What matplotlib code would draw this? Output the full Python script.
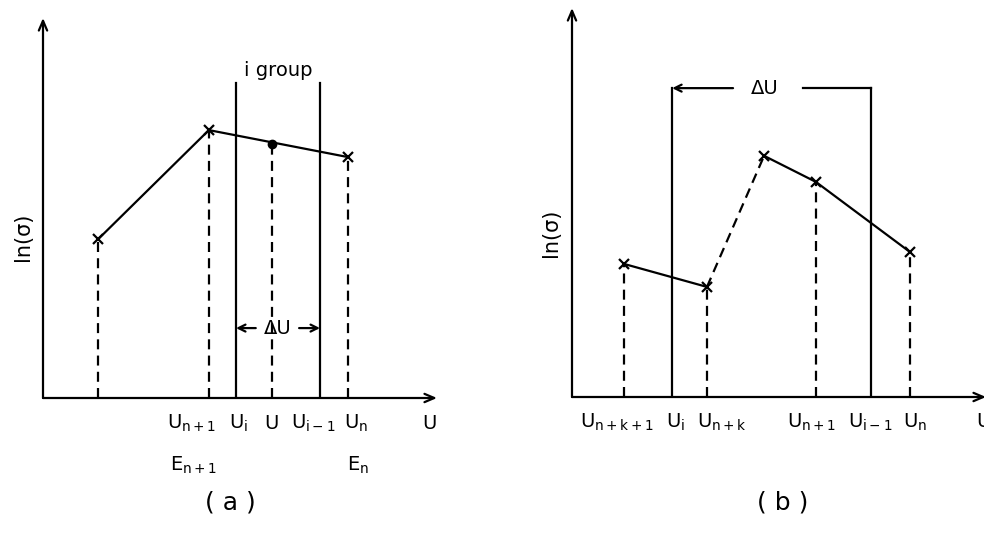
import matplotlib
matplotlib.use("Agg")
import matplotlib.pyplot as plt

plt.rcParams["font.family"] = ["DejaVu Sans"]
plt.rcParams["mathtext.default"] = "regular"

# panel (a): points on the ln(sigma) curve
a_x = [14.0, 42.1, 77.4]
a_y = [41.8, 70.5, 63.4]
a_dot_x = 58.1
a_dot_y = 66.8
a_ui = 49.0
a_ui1 = 70.3
a_group_top = 83.0
a_du_y = 18.4
a_ticks = [(37.8, r"$U_{n+1}$"), (49.7, r"$U_i$"), (58.1, "U"),
           (68.5, r"$U_{i-1}$"), (79.4, r"$U_n$"), (98.2, "U")]
a_ticks2 = [(38.3, r"$E_{n+1}$"), (80.0, r"$E_n$")]

# panel (b)
b_x = [12.6, 32.6, 46.4, 58.9, 81.6]
b_y = [34.2, 28.3, 62.0, 55.3, 37.3]
b_ui = 24.2
b_ui1 = 72.2
b_top = 79.4
b_ticks = [(10.9, r"$U_{n+k+1}$"), (24.9, r"$U_i$"), (36.2, r"$U_{n+k}$"),
           (58.0, r"$U_{n+1}$"), (72.0, r"$U_{i-1}$"), (82.9, r"$U_n$"),
           (99.5, "U")]

W, H = 984, 546
fig = plt.figure(figsize=(W / 100, H / 100), dpi=100)

lw = 1.6
fs = 14
ax_a = fig.add_axes([43 / W, (H - 398) / H, 394 / W, 380 / H])
ax_b = fig.add_axes([572 / W, (H - 397) / H, 414 / W, 389 / H])

for ax in (ax_a, ax_b):
    ax.set_xlim(0, 100)
    ax.set_ylim(0, 100)
    ax.axis("off")
    arr = dict(arrowstyle="->,head_length=0.7,head_width=0.3", lw=lw, color="black",
               shrinkA=0, shrinkB=0)
    ax.annotate("", xy=(100, 0), xytext=(0, 0), arrowprops=arr, annotation_clip=False)
    ax.annotate("", xy=(0, 100), xytext=(0, 0), arrowprops=arr, annotation_clip=False)
    ax.text(-5, 42.3, "ln(σ)", rotation=90, fontsize=15, ha="center", va="center")

dash = (0, (4.5, 2.8))

# ---- (a)
ax_a.plot(a_x, a_y, color="black", lw=lw, marker="x", ms=7, mew=1.6, clip_on=False)
ax_a.plot([a_dot_x], [a_dot_y], "o", color="black", ms=6)
for x, y in zip(a_x + [a_dot_x], a_y + [a_dot_y]):
    ax_a.plot([x, x], [0, y], color="black", lw=lw, ls=dash)
for x in (a_ui, a_ui1):
    ax_a.plot([x, x], [0, a_group_top], color="black", lw=lw)
ax_a.text((a_ui + a_ui1) / 2, 86.3, "i group", fontsize=fs, ha="center", va="center")
small = dict(arrowstyle="->,head_length=0.5,head_width=0.25", lw=lw, color="black",
             shrinkA=0, shrinkB=0)
ax_a.annotate("", xy=(a_ui, a_du_y), xytext=(54.0, a_du_y), arrowprops=small)
ax_a.annotate("", xy=(a_ui1, a_du_y), xytext=(65.0, a_du_y), arrowprops=small)
ax_a.text(59.6, a_du_y, "ΔU", fontsize=fs, ha="center", va="center")
for x, s in a_ticks:
    ax_a.text(x, -6.6, s, fontsize=fs, ha="center", va="center")
for x, s in a_ticks2:
    ax_a.text(x, -17.6, s, fontsize=fs, ha="center", va="center")
ax_a.text(47.5, -27.4, "( a )", fontsize=18, ha="center", va="center")

# ---- (b)
ax_b.plot(b_x[:2], b_y[:2], color="black", lw=lw, marker="x", ms=7, mew=1.6)
ax_b.plot(b_x[1:3], b_y[1:3], color="black", lw=lw, ls=dash)
ax_b.plot(b_x[2:], b_y[2:], color="black", lw=lw, marker="x", ms=7, mew=1.6)
for i in (0, 1, 3, 4):
    ax_b.plot([b_x[i], b_x[i]], [0, b_y[i]], color="black", lw=lw, ls=dash)
for x in (b_ui, b_ui1):
    ax_b.plot([x, x], [0, b_top], color="black", lw=lw)
ax_b.annotate("", xy=(b_ui, b_top), xytext=(38.9, b_top), arrowprops=small)
ax_b.plot([55.8, b_ui1], [b_top, b_top], color="black", lw=lw)
ax_b.text(46.6, b_top, "ΔU", fontsize=fs, ha="center", va="center")
for x, s in b_ticks:
    ax_b.text(x, -6.4, s, fontsize=fs, ha="center", va="center", clip_on=False)
ax_b.text(51, -27.2, "( b )", fontsize=18, ha="center", va="center")

fig.savefig("out.png", dpi=100, facecolor="white")
